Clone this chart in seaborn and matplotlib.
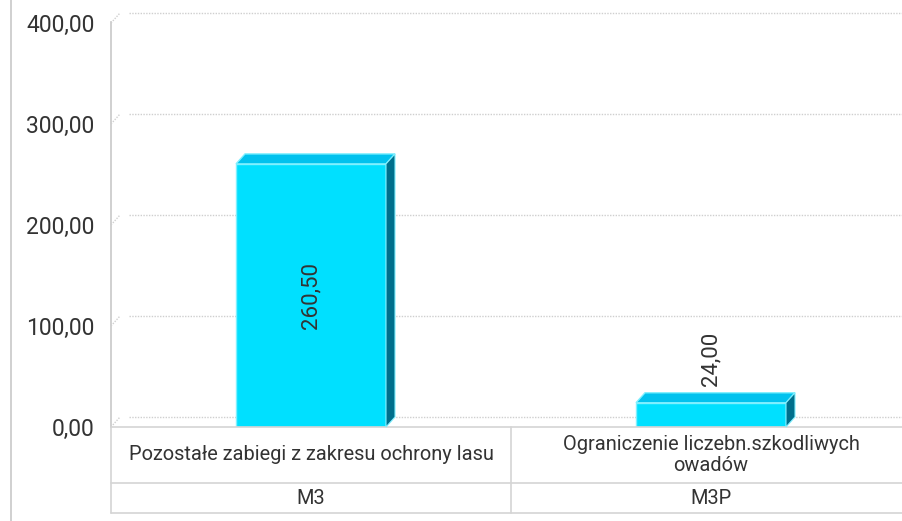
import matplotlib
matplotlib.use("Agg")
import matplotlib.pyplot as plt
import matplotlib.transforms as mtransforms
from matplotlib.patches import Polygon
from matplotlib.lines import Line2D
import seaborn as sns
import pandas as pd

categories = ["Pozostałe zabiegi z zakresu ochrony lasu", "Ograniczenie liczebn.szkodliwych\nowadów"]
codes = ["M3", "M3P"]
values = [260.50, 24.00]
yticks = [0, 100, 200, 300, 400]

sns.set_style("white")
plt.rcParams["font.family"] = ["Roboto", "DejaVu Sans"]

W, H = 903, 521
fig = plt.figure(figsize=(W / 100, H / 100), dpi=100)

# pixel layout
ax_left, ax_right = 111, 903
y_zero, y_top = 427, 14
px_per_unit = 1.01
dx, dy = 9, 10

ax = fig.add_axes([ax_left / W, (H - y_zero) / H, (ax_right - ax_left) / W, (y_zero - y_top) / H])
ax.set_facecolor("none")

df = pd.DataFrame({"cat": categories, "val": values})
sns.barplot(data=df, x="cat", y="val", width=0.375, color="#00e0ff", saturation=1,
            edgecolor="#7ff0ff", linewidth=1, ax=ax, zorder=3)

ax.set_xlim(-0.5, -0.5 + (ax_right - ax_left) / 400)
ax.set_ylim(0, (y_zero - y_top) / px_per_unit)

# back-wall grid lines (dotted, shifted in depth)
off = mtransforms.ScaledTranslation(dx / 100, dy / 100, fig.dpi_scale_trans)
for t in yticks:
    ax.plot([-0.5 + 9 / 400, 2.0], [t, t], transform=ax.transData + off,
            color="#cfcfcf", lw=1, ls=(0, (1, 1)), clip_on=False, zorder=1)
    p0 = ax.transData.transform((-0.5, t))
    fig.add_artist(Line2D([p0[0] / W, (p0[0] + dx) / W], [p0[1] / H, (p0[1] + dy) / H],
                          transform=fig.transFigure, color="#cfcfcf", lw=1, ls=(0, (1, 1))))

ax.set_yticks(yticks)
ax.set_yticklabels([f"{t:.2f}".replace(".", ",") for t in yticks], fontsize=16.5, color="#333333")
ax.tick_params(axis="y", length=0, pad=12)
ax.set_xticks([])
ax.set_xlabel("")
ax.set_ylabel("")
for s in ["top", "right", "bottom"]:
    ax.spines[s].set_visible(False)
ax.spines["left"].set_color("#c8c8c8")
ax.spines["left"].set_linewidth(1.2)
ax.spines["left"].set_bounds(0, 404 / px_per_unit + 1)

# 3D faces for bars
fig.canvas.draw()
for patch, v in zip(ax.patches, values):
    x0 = patch.get_x()
    x1 = x0 + patch.get_width()
    (X0, Y0) = ax.transData.transform((x0, 0))
    (X1, Y1) = ax.transData.transform((x1, v))
    top = Polygon([(X0, Y1), (X1, Y1), (X1 + dx, Y1 + dy), (X0 + dx, Y1 + dy)], closed=True,
                  transform=None, facecolor="#00c2ee", edgecolor="#7ff0ff", lw=1, zorder=4)
    side = Polygon([(X1, Y0), (X1, Y1), (X1 + dx, Y1 + dy), (X1 + dx, Y0 + dy)], closed=True,
                   transform=None, facecolor="#006f8c", edgecolor="#7ff0ff", lw=0.8, zorder=4)
    fig.add_artist(top)
    fig.add_artist(side)

# value labels
for i, v in enumerate(values):
    lab = f"{v:.2f}".replace(".", ",")
    if v > 100:
        ax.text(i, v / 2, lab, rotation=90, ha="center", va="center", fontsize=16,
                color="#333333", zorder=6)
    else:
        ax.text(i, v + 17, lab, rotation=90, ha="center", va="bottom", fontsize=16,
                color="#333333", zorder=6)

# category table
def hline(y, x0=ax_left, x1=W):
    fig.add_artist(Line2D([x0 / W, x1 / W], [(H - y) / H, (H - y) / H], transform=fig.transFigure,
                          color="#d4d4d4", lw=1.2))

def vline(x, y0, y1, c="#d4d4d4"):
    fig.add_artist(Line2D([x / W, x / W], [(H - y0) / H, (H - y1) / H], transform=fig.transFigure,
                          color=c, lw=1.2))

hline(427)
hline(483)
hline(513)
vline(ax_left, 427, 513)
vline(511, 427, 513)
vline(11, 0, 521, c="#c8c8c8")

centers = [311, 711]
for cx, cat, code in zip(centers, categories, codes):
    fig.text(cx / W, (H - 455) / H, cat, ha="center", va="center", fontsize=14.4,
             color="#333333", linespacing=1.15)
    fig.text(cx / W, (H - 498) / H, code, ha="center", va="center", fontsize=14.4, color="#333333")

fig.savefig("out.png", dpi=100)
